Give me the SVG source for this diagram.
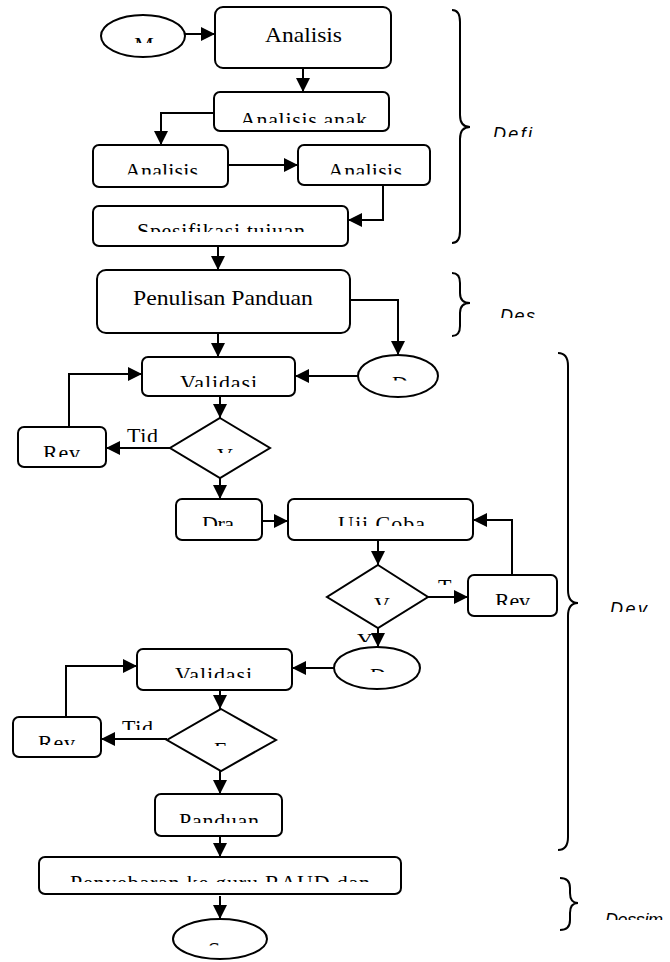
<svg xmlns="http://www.w3.org/2000/svg" width="670" height="962" viewBox="0 0 670 962">
<style>
.box{fill:#fff;stroke:#000;stroke-width:2}
.ln{fill:none;stroke:#000;stroke-width:2;marker-end:url(#ah)}
.br{fill:none;stroke:#000;stroke-width:2}
.t{font-family:"Liberation Serif","Times New Roman",serif;font-size:22px;fill:#000}
.it{font-family:"Liberation Sans",Arial,sans-serif;font-style:italic;font-size:18px;fill:#000}
</style>
<defs>
<marker id="ah" viewBox="0 0 14 14" refX="14" refY="7" markerWidth="14" markerHeight="14" markerUnits="userSpaceOnUse" orient="auto">
<path d="M0,0 L14,7 L0,14 z" fill="#000"/>
</marker>
<clipPath id="k43"><rect x="0" y="0" width="670" height="43"/></clipPath>
<clipPath id="k123"><rect x="0" y="0" width="670" height="123"/></clipPath>
<clipPath id="k137"><rect x="0" y="0" width="670" height="137"/></clipPath>
<clipPath id="k174"><rect x="0" y="0" width="670" height="174.5"/></clipPath>
<clipPath id="k232"><rect x="0" y="0" width="670" height="232"/></clipPath>
<clipPath id="k318"><rect x="0" y="0" width="670" height="318"/></clipPath>
<clipPath id="k380"><rect x="0" y="0" width="670" height="380.5"/></clipPath>
<clipPath id="k387"><rect x="0" y="0" width="670" height="387"/></clipPath>
<clipPath id="k442"><rect x="0" y="0" width="670" height="442"/></clipPath>
<clipPath id="k453"><rect x="0" y="0" width="670" height="453"/></clipPath>
<clipPath id="k457"><rect x="0" y="0" width="670" height="457"/></clipPath>
<clipPath id="k526"><rect x="0" y="0" width="670" height="526"/></clipPath>
<clipPath id="k585"><rect x="0" y="0" width="670" height="585"/></clipPath>
<clipPath id="k605"><rect x="0" y="0" width="670" height="605"/></clipPath>
<clipPath id="k612"><rect x="0" y="0" width="670" height="612"/></clipPath>
<clipPath id="k642"><rect x="0" y="0" width="670" height="642"/></clipPath>
<clipPath id="k672"><rect x="0" y="0" width="670" height="672"/></clipPath>
<clipPath id="k678"><rect x="0" y="0" width="670" height="678"/></clipPath>
<clipPath id="k730"><rect x="0" y="0" width="670" height="730"/></clipPath>
<clipPath id="k745"><rect x="0" y="0" width="670" height="745"/></clipPath>
<clipPath id="k746"><rect x="0" y="0" width="670" height="746"/></clipPath>
<clipPath id="k823"><rect x="0" y="0" width="670" height="823"/></clipPath>
<clipPath id="k882"><rect x="0" y="0" width="670" height="882"/></clipPath>
<clipPath id="k920"><rect x="0" y="0" width="670" height="920"/></clipPath>
<clipPath id="k945"><rect x="0" y="0" width="670" height="945.5"/></clipPath>
</defs>
<rect width="670" height="962" fill="#fff"/>

<g id="connectors">
<path class="ln" d="M185,34 L215,34"/>
<path class="ln" d="M303,68 L303,92"/>
<path class="ln" d="M214,113 L161,113 L161,145"/>
<path class="ln" d="M228,165 L298,165"/>
<path class="ln" d="M383,185 L383,220 L348,220"/>
<path class="ln" d="M218,246 L218,270"/>
<path class="ln" d="M350,300 L398,300 L398,355"/>
<path class="ln" d="M218,333 L218,357"/>
<path class="ln" d="M359,376 L295,376"/>
<path class="ln" d="M69,427 L69,374 L142,374"/>
<path class="ln" d="M220,396 L220,418"/>
<path class="ln" d="M170,448 L106,448"/>
<path class="ln" d="M220,478 L220,499"/>
<path class="ln" d="M262,521 L288,521"/>
<path class="ln" d="M378,541 L378,565"/>
<path class="ln" d="M428,597 L468,597"/>
<path class="ln" d="M512,575 L512,520 L473,520"/>
<path class="ln" d="M378,628 L378,647"/>
<path class="ln" d="M334,668 L292,668"/>
<path class="ln" d="M66,717 L66,666 L137,666"/>
<path class="ln" d="M220,690 L220,709"/>
<path class="ln" d="M167,739 L101,739"/>
<path class="ln" d="M220,771 L220,794"/>
<path class="ln" d="M220,836 L220,857"/>
<path class="ln" d="M220,896 L220,919"/>
</g>

<g id="start">
<ellipse class="box" cx="143" cy="36" rx="42" ry="21"/>
<text class="t" x="144" y="52" text-anchor="middle" clip-path="url(#k43)">M</text>
</g>
<g id="analisis">
<rect class="box" x="215" y="7" width="176" height="61" rx="8"/>
<text class="t" x="265" y="42" textLength="77" lengthAdjust="spacingAndGlyphs">Analisis</text>
</g>
<g id="analisis-anak">
<rect class="box" x="214" y="92" width="175" height="39" rx="6"/>
<text class="t" x="240" y="126.5" textLength="127" lengthAdjust="spacing" clip-path="url(#k123)">Analisis anak</text>
</g>
<g id="analisis-left">
<rect class="box" x="93" y="145" width="135" height="42" rx="6"/>
<text class="t" x="125" y="177.5" textLength="73" lengthAdjust="spacing" clip-path="url(#k174)">Analisis</text>
</g>
<g id="analisis-right">
<rect class="box" x="298" y="145" width="132" height="40" rx="6"/>
<text class="t" x="328" y="177.5" textLength="74" lengthAdjust="spacing" clip-path="url(#k174)">Analisis</text>
</g>
<g id="spesifikasi">
<rect class="box" x="93" y="206" width="255" height="40" rx="6"/>
<text class="t" x="137" y="237.5" textLength="168" lengthAdjust="spacing" clip-path="url(#k232)">Spesifikasi tujuan</text>
</g>
<g id="penulisan">
<rect class="box" x="97" y="270" width="253" height="63" rx="9"/>
<text class="t" x="133" y="305" textLength="180" lengthAdjust="spacingAndGlyphs">Penulisan Panduan</text>
</g>
<g id="draf1">
<ellipse class="box" cx="398" cy="376" rx="40" ry="21"/>
<text class="t" x="392" y="390.5" clip-path="url(#k380)">D</text>
</g>
<g id="validasi1">
<rect class="box" x="142" y="357" width="153" height="39" rx="6"/>
<text class="t" x="180" y="389.5" textLength="77" lengthAdjust="spacing" clip-path="url(#k387)">Validasi</text>
</g>
<g id="dec1">
<polygon class="box" points="220,418 270,448 220,478 170,448"/>
<text class="t" x="217" y="462.5" clip-path="url(#k453)">V</text>
</g>
<g id="tid1"><text class="t" x="127" y="442.5" textLength="31" lengthAdjust="spacing" clip-path="url(#k442)">Tid</text></g>
<g id="rev1">
<rect class="box" x="18" y="427" width="88" height="40" rx="6"/>
<text class="t" x="43" y="459.5" textLength="37" lengthAdjust="spacing" clip-path="url(#k457)">Rev</text>
</g>
<g id="dra">
<rect class="box" x="176" y="499" width="86" height="41" rx="6"/>
<text class="t" x="202" y="530.5" textLength="32" lengthAdjust="spacing" clip-path="url(#k526)">Dra</text>
</g>
<g id="ujicoba">
<rect class="box" x="288" y="499" width="185" height="41" rx="6"/>
<text class="t" x="338" y="530.5" textLength="87" lengthAdjust="spacing" clip-path="url(#k526)">Uji Coba</text>
</g>
<g id="dec2">
<polygon class="box" points="378,565 428,597 378,628 327,597"/>
<text class="t" x="374" y="611.5" clip-path="url(#k605)">V</text>
</g>
<g id="lblT"><text class="t" x="438" y="593.5" clip-path="url(#k585)">T</text></g>
<g id="rev2">
<rect class="box" x="468" y="575" width="89" height="41" rx="6"/>
<text class="t" x="495" y="607.5" textLength="35" lengthAdjust="spacing" clip-path="url(#k605)">Rev</text>
</g>
<g id="lblY"><text class="t" x="357" y="647.5" clip-path="url(#k642)">Y</text></g>
<g id="draf2">
<ellipse class="box" cx="377" cy="668" rx="43" ry="21"/>
<text class="t" x="370" y="682.5" clip-path="url(#k672)">D</text>
</g>
<g id="validasi2">
<rect class="box" x="137" y="649" width="155" height="41" rx="6"/>
<text class="t" x="175" y="681.5" textLength="77" lengthAdjust="spacing" clip-path="url(#k678)">Validasi</text>
</g>
<g id="dec3">
<polygon class="box" points="221,709 276,740 221,771 167,740"/>
<text class="t" x="214" y="756.5" clip-path="url(#k746)">E</text>
</g>
<g id="tid2"><text class="t" x="122" y="734.5" textLength="31" lengthAdjust="spacing" clip-path="url(#k730)">Tid</text></g>
<g id="rev3">
<rect class="box" x="13" y="717" width="88" height="40" rx="6"/>
<text class="t" x="38" y="749.5" textLength="37" lengthAdjust="spacing" clip-path="url(#k745)">Rev</text>
</g>
<g id="panduan">
<rect class="box" x="155" y="794" width="127" height="42" rx="6"/>
<text class="t" x="179" y="827.5" textLength="80" lengthAdjust="spacing" clip-path="url(#k823)">Panduan</text>
</g>
<g id="penyebaran">
<rect class="box" x="39" y="857" width="362" height="37" rx="6"/>
<text class="t" x="70" y="889.5" textLength="300" lengthAdjust="spacing" clip-path="url(#k882)">Penyebaran ke guru RAUD dan</text>
</g>
<g id="selesai">
<ellipse class="box" cx="220" cy="939" rx="47" ry="20"/>
<text class="t" x="208" y="956.5" clip-path="url(#k945)">S</text>
</g>

<g id="brace-define">
<path class="br" d="M452,10 Q460,10 460,22 L460,115 Q460,127 470,127 Q460,127 460,139 L460,231 Q460,243 452,243"/>
<text class="it" x="493" y="140" textLength="39" lengthAdjust="spacing" clip-path="url(#k137)">Defi</text>
</g>
<g id="brace-design">
<path class="br" d="M452,273 Q460,273 460,283 L460,293 Q460,303 470,303 Q460,303 460,313 L460,326 Q460,336 452,336"/>
<text class="it" x="500" y="322" textLength="35" lengthAdjust="spacing" clip-path="url(#k318)">Des</text>
</g>
<g id="brace-develop">
<path class="br" d="M558,353 Q568,353 568,366 L568,590 Q568,603 578,603 Q568,603 568,616 L568,837 Q568,850 558,850"/>
<text class="it" x="610" y="615" textLength="37" lengthAdjust="spacing" clip-path="url(#k612)">Dev</text>
</g>
<g id="brace-disseminate">
<path class="br" d="M560,878 Q570,878 570,888 L570,893 Q570,903 578,903 Q570,903 570,913 L570,920 Q570,930 560,930"/>
<text class="it" x="605" y="926" textLength="58" lengthAdjust="spacing" clip-path="url(#k920)">Dessim</text>
</g>
</svg>
